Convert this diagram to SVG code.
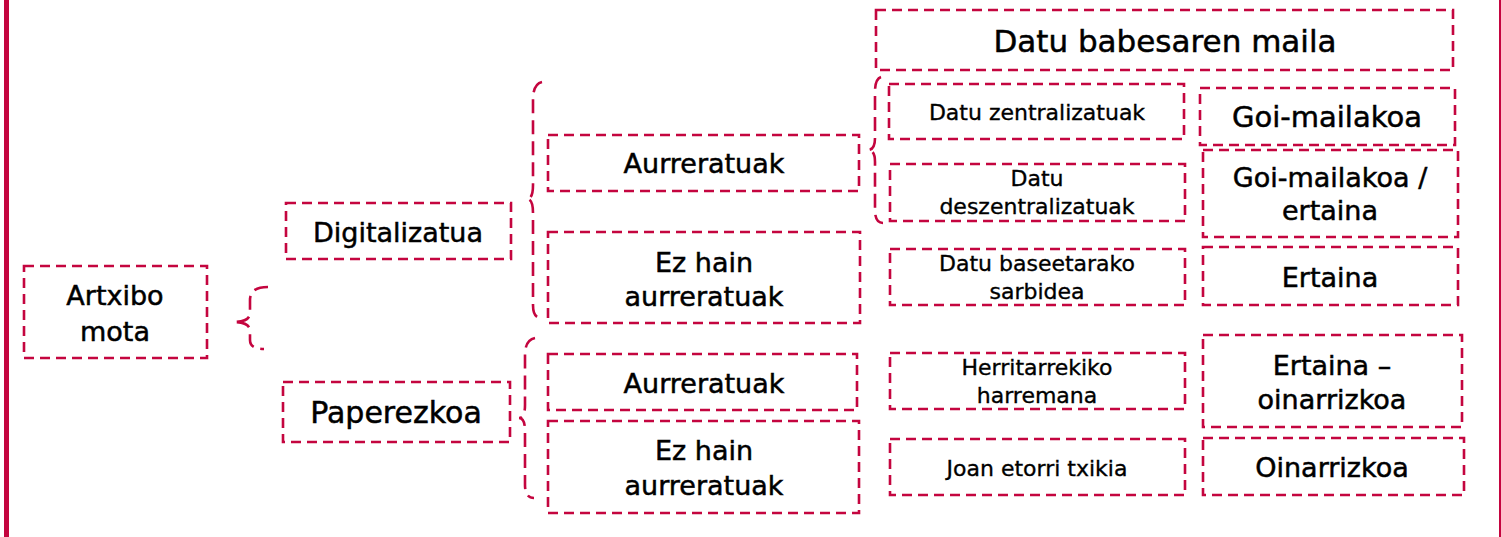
<svg xmlns="http://www.w3.org/2000/svg" width="1501" height="537" viewBox="0 0 1501 537">
<style>
.b{fill:none;stroke:#C4053F;stroke-width:2.6;stroke-dasharray:10 6}
.br{fill:none;stroke:#C4053F;stroke-width:2.6;stroke-dasharray:14 7;stroke-linecap:butt}
text{font-family:"DejaVu Sans","Liberation Sans",sans-serif;fill:#000;stroke:#000;stroke-width:0.5;text-anchor:middle}
.L{font-size:27px}
.S{font-size:22px;stroke-width:0.35}
</style>
<rect width="1501" height="537" fill="#fff"/>
<rect x="4" y="0" width="5" height="537" fill="#C4053F"/>
<rect x="1499" y="0" width="2" height="537" fill="#C4053F"/>
<g id="connectors">
<path class="br" d="M268,287 Q250,287 250,300 L250,313 Q250,322 233,322 Q250,322 250,331 L250,340 Q250,349 264,349"/>
<path class="br" d="M542,82 Q533,84 533,100 L533,185 Q533,199 527,199 Q533,199 533,213 L533,305 Q533,318 541,318"/>
<path class="br" d="M881,77 Q875,79 875,92 L875,138 Q875,150 868,150 Q875,150 875,162 L875,210 Q875,223 883,223"/>
<path class="br" d="M535,338 Q525,340 525,355 L525,405 Q525,418 519,418 Q525,418 525,431 L525,485 Q525,498 534,498"/>
</g>
<g id="artxibo"><rect class="b" x="24" y="266" width="183" height="92"/><text class="L" x="115" y="305">Artxibo</text><text class="L" x="115" y="341">mota</text></g>
<g id="digitalizatua"><rect class="b" x="286" y="203" width="225" height="56"/><text class="L" x="398" y="242">Digitalizatua</text></g>
<g id="paperezkoa"><rect class="b" x="283" y="382" width="227" height="60"/><text class="L" x="396" y="423" style="font-size:30px">Paperezkoa</text></g>
<g id="aurreratuak1"><rect class="b" x="548" y="135" width="311" height="56"/><text class="L" x="704" y="173">Aurreratuak</text></g>
<g id="ezhain1"><rect class="b" x="548" y="232" width="312" height="91"/><text class="L" x="704" y="272">Ez hain</text><text class="L" x="704" y="306">aurreratuak</text></g>
<g id="aurreratuak2"><rect class="b" x="548" y="354" width="309" height="56"/><text class="L" x="704" y="393">Aurreratuak</text></g>
<g id="ezhain2"><rect class="b" x="548" y="421" width="311" height="92"/><text class="L" x="704" y="460">Ez hain</text><text class="L" x="704" y="495">aurreratuak</text></g>
<g id="datubabes"><rect class="b" x="876" y="10" width="577" height="60"/><text class="L" x="1165" y="52" style="font-size:31px">Datu babesaren maila</text></g>
<g id="zentral"><rect class="b" x="889" y="84" width="295" height="55"/><text class="S" x="1037" y="120">Datu zentralizatuak</text></g>
<g id="deszentral"><rect class="b" x="890" y="164" width="295" height="57"/><text class="S" x="1037" y="186">Datu</text><text class="S" x="1037" y="214">deszentralizatuak</text></g>
<g id="sarbidea"><rect class="b" x="890" y="249" width="295" height="56"/><text class="S" x="1037" y="271">Datu baseetarako</text><text class="S" x="1037" y="299">sarbidea</text></g>
<g id="herritar"><rect class="b" x="890" y="353" width="295" height="56"/><text class="S" x="1037" y="375">Herritarrekiko</text><text class="S" x="1037" y="403">harremana</text></g>
<g id="joan"><rect class="b" x="890" y="439" width="295" height="56"/><text class="S" x="1037" y="476">Joan etorri txikia</text></g>
<g id="goi"><rect class="b" x="1200" y="88" width="255" height="57"/><text class="L" x="1327" y="127" style="font-size:29px">Goi-mailakoa</text></g>
<g id="goiertaina"><rect class="b" x="1203" y="150" width="255" height="87"/><text class="L" x="1330" y="187">Goi-mailakoa /</text><text class="L" x="1330" y="220">ertaina</text></g>
<g id="ertaina"><rect class="b" x="1203" y="247" width="255" height="58"/><text class="L" x="1330" y="287">Ertaina</text></g>
<g id="ertainaoin"><rect class="b" x="1203" y="335" width="259" height="92"/><text class="L" x="1332" y="375">Ertaina –</text><text class="L" x="1332" y="409">oinarrizkoa</text></g>
<g id="oinarrizkoa"><rect class="b" x="1203" y="438" width="261" height="57"/><text class="L" x="1332" y="477">Oinarrizkoa</text></g>
</svg>
